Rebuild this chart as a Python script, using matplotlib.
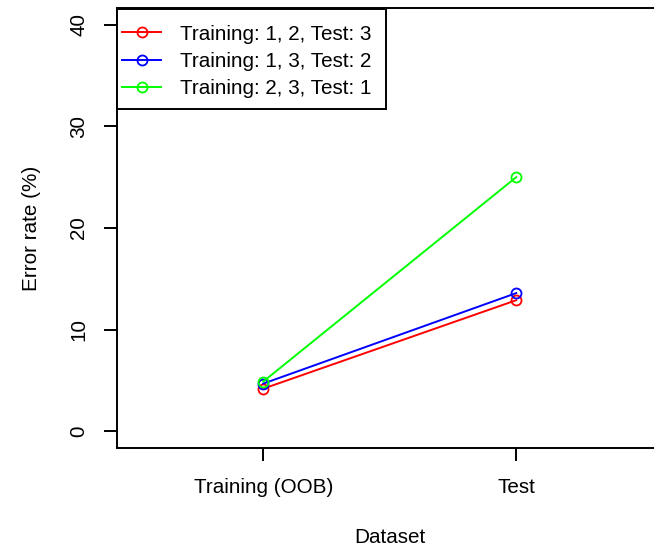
import matplotlib
matplotlib.use("Agg")
import matplotlib.pyplot as plt
from matplotlib.patches import Rectangle

plt.rcParams['font.family'] = ['Liberation Sans', 'DejaVu Sans']

# error rates (%) for each train/test split
datasets = ["Training (OOB)", "Test"]
split_labels = ["Training: 1, 2, Test: 3",
                "Training: 1, 3, Test: 2",
                "Training: 2, 3, Test: 1"]
err_split_3 = [4.2, 12.9]
err_split_2 = [4.7, 13.6]
err_split_1 = [4.9, 25.0]
colors = ["#FF0000", "#0000FF", "#00FF00"]

W, H = 654, 547
fig = plt.figure(figsize=(W / 100, H / 100), dpi=100)
# plot region in pixels: left 116.5, top 8.3, right 663 (past the edge), bottom 447.7
ax_l, ax_t, ax_r, ax_b = 116.5, 8.3, 663, 447.7
ax = fig.add_axes([ax_l / W, (H - ax_b) / H, (ax_r - ax_l) / W, (ax_b - ax_t) / H])

fs = 14.9
xs = [1, 2]
for ys, lab, c in zip([err_split_3, err_split_2, err_split_1], split_labels, colors):
    ax.plot(xs, ys, color=c, lw=1.4, marker='o', markersize=7.2,
            markerfacecolor='none', markeredgewidth=1.3, label=lab)

ax.set_xlim(0.42, 2.58)
ax.set_ylim(-1.6, 41.6)
ax.set_xticks(xs)
ax.set_xticklabels(datasets)
ax.set_yticks([0, 10, 20, 30, 40])
ax.tick_params(axis='both', direction='out', length=9.4, width=1.4,
               labelsize=fs, pad=11)
ax.tick_params(axis='x', pad=12.5)
ax.tick_params(axis='y', labelrotation=90)
for t in ax.get_yticklabels():
    t.set_va('center')
for s in ax.spines.values():
    s.set_linewidth(1.4)

ax.set_xlabel("Dataset", fontsize=fs, labelpad=22)
ax.set_ylabel("Error rate (%)", fontsize=fs, labelpad=20)

# legend entries without their own frame; the box is drawn separately
# so it can carry more room above and below than at the sides
def px_to_ax(x, y):
    return (x - ax_l) / (ax_r - ax_l), (ax_b - y) / (ax_b - ax_t)

leg = ax.legend(loc='upper left', bbox_to_anchor=px_to_ax(122, 24.5),
                borderaxespad=0, borderpad=0, fontsize=fs, frameon=False,
                handlelength=1.9, handletextpad=0.9, labelspacing=0.40)

fx0, fy0 = px_to_ax(116.7, 109.3)
fx1, fy1 = px_to_ax(385.7, 9.0)
ax.add_patch(Rectangle((fx0, fy0), fx1 - fx0, fy1 - fy0, transform=ax.transAxes,
                       facecolor='white', edgecolor='black', lw=1.4,
                       zorder=4.9, clip_on=False))

fig.savefig("out.png", dpi=100)
